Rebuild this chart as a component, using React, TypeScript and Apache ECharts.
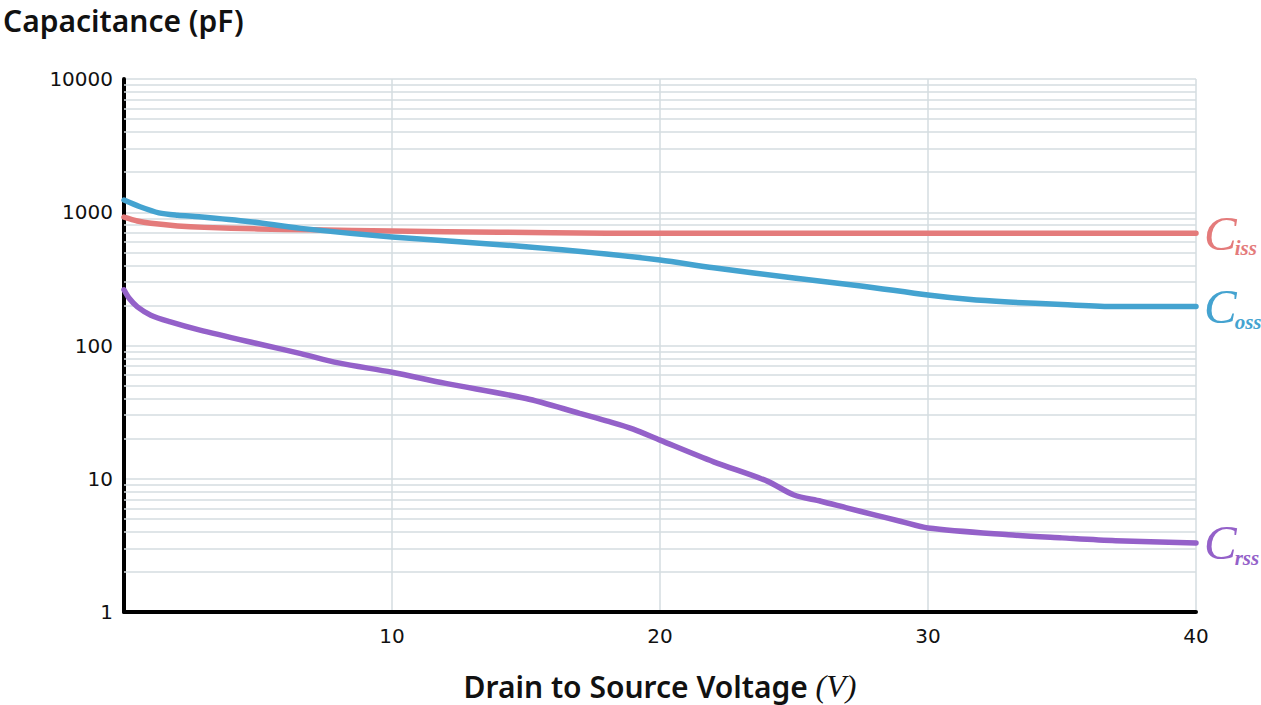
import React, { useEffect, useRef } from "react";
import * as echarts from "echarts";

const cissV = [0, 0.5, 1, 2, 3, 5, 7, 10, 14, 18, 20, 25, 30, 35, 40];
const cissC = [920, 860, 826, 790, 770, 750, 738, 722, 708, 697, 695, 695, 695, 695, 695];

const cossV = [0, 0.6, 1.3, 2, 2.8, 4.7, 6.6, 10, 15, 18, 20, 22, 25, 27.5, 30, 31.5, 33, 35, 37, 40];
const cossC = [1236, 1100, 990, 950, 926, 850, 757, 652, 552, 486, 438, 383, 321, 280, 239, 222, 212, 203, 196, 196];

const crssV = [0, 0.2, 0.5, 1, 1.7, 2.8, 5, 6.6, 8, 10, 12, 15, 17, 18, 19, 20, 22, 24, 25, 26, 27, 28, 29, 30, 33, 35, 37, 40];
const crssC = [262, 225, 195, 169, 151, 131, 103, 87, 74, 63, 52, 40, 31, 27.2, 23.6, 19.5, 13.4, 9.6, 7.55, 6.78, 6.02, 5.36, 4.78, 4.27, 3.8, 3.6, 3.43, 3.3];

const minorLevels = [2, 3, 4, 5, 6, 7, 8, 9, 20, 30, 40, 50, 60, 70, 80, 90, 200, 300, 400, 500, 600, 700, 800, 900, 2000, 3000, 4000, 5000, 6000, 7000, 8000, 9000];

const xTicks = [0, 10, 20, 30, 40];

const GRID = "#d5dde1";

function pairs(v: number[], c: number[]) {
  return v.map((x, i) => [x, c[i]]);
}

function endLabel(sub: string, color: string) {
  return {
    show: true,
    distance: 8,
    formatter: `{c|C}{s|${sub}}`,
    rich: {
      c: {
        fontFamily: "Liberation Serif",
        fontStyle: "italic",
        fontSize: 49,
        color,
        verticalAlign: "middle",
      },
      s: {
        fontFamily: "Liberation Serif",
        fontStyle: "italic",
        fontWeight: "bold",
        fontSize: 21,
        color,
        verticalAlign: "bottom",
        padding: [30, 0, 0, -2],
      },
    },
  };
}

export default function App() {
  const ref = useRef<HTMLDivElement>(null);
  useEffect(() => {
    if (!ref.current) return;
    const chart = echarts.init(ref.current, null, { renderer: "svg" });
    const lineSeries = (name: string, data: number[][], color: string, sub: string) => ({
      name,
      type: "line",
      data,
      smooth: 0.3,
      showSymbol: false,
      symbol: "none",
      z: 10,
      lineStyle: { color, width: 5.5, cap: "round", join: "round" },
      itemStyle: { color },
      endLabel: endLabel(sub, color),
    });
    chart.setOption({
      animation: false,
      backgroundColor: "#ffffff",
      title: {
        text: "Capacitance (pF)",
        left: -2,
        top: 0,
        textStyle: {
          fontFamily: "Noto Sans",
          fontWeight: 600,
          fontSize: 30,
          color: "#111",
        },
      },
      grid: {
        left: 124,
        right: 65,
        top: 79,
        bottom: 93,
        containLabel: false,
        outerBoundsMode: "none",
      },
      xAxis: {
        type: "value",
        min: xTicks[0],
        max: xTicks[xTicks.length - 1],
        interval: 10,
        name: "{a|Drain to Source Voltage }{b|(V)}",
        nameLocation: "middle",
        nameGap: 58,
        nameTextStyle: {
          rich: {
            a: { fontFamily: "Noto Sans", fontWeight: 600, fontSize: 30, color: "#111" },
            b: { fontFamily: "Liberation Serif", fontStyle: "italic", fontSize: 32, color: "#111" },
          },
        },
        axisLine: { show: true, onZero: false, lineStyle: { color: "#000", width: 4 } },
        axisTick: { show: false },
        axisLabel: {
          showMinLabel: false,
          margin: 14,
          fontFamily: "DejaVu Sans",
          fontSize: 20,
          color: "#111",
          formatter: (v: number) => (v === 0 ? "" : String(v)),
        },
        splitLine: { show: true, lineStyle: { color: GRID, width: 1.5 } },
      },
      yAxis: {
        type: "log",
        logBase: 10,
        min: 1,
        max: 10000,
        axisLine: { show: true, onZero: false, lineStyle: { color: "#000", width: 4 } },
        axisTick: { show: false },
        axisLabel: {
          margin: 11,
          fontFamily: "DejaVu Sans",
          fontSize: 20,
          color: "#111",
          formatter: (v: number) => String(v),
        },
        splitLine: { show: true, lineStyle: { color: GRID, width: 1.5 } },
      },
      series: [
        {
          name: "grid",
          type: "line",
          data: [[0, 1]],
          symbol: "none",
          showSymbol: false,
          silent: true,
          z: 1,
          lineStyle: { opacity: 0 },
          markLine: {
            silent: true,
            z: 1,
            symbol: ["none", "none"],
            label: { show: false },
            lineStyle: { color: GRID, type: "solid", width: 1.5 },
            data: minorLevels.map((v) => ({ yAxis: v })),
          },
        },
        lineSeries("Ciss", pairs(cissV, cissC), "#e47b7b", "iss"),
        lineSeries("Coss", pairs(cossV, cossC), "#44a3d0", "oss"),
        lineSeries("Crss", pairs(crssV, crssC), "#9461c9", "rss"),
      ],
    });
    return () => chart.dispose();
  }, []);
  return (
    <div
      ref={ref}
      style={{ position: "fixed", left: 0, top: 0, width: 1261, height: 705, background: "#fff" }}
    />
  );
}
